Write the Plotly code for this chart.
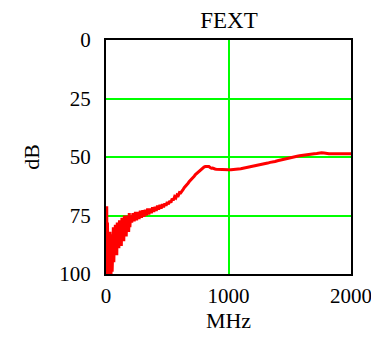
import plotly.graph_objects as go

# Frequency (MHz) and FEXT (dB)
freq_mhz = [
    2, 4, 6, 8, 10, 12, 15, 18, 20, 23, 26, 29, 32, 35, 38, 41, 44, 47, 50, 53, 56,
    60, 64, 68, 72, 76, 80, 84, 88, 92, 96, 100, 105, 110, 115, 120, 125, 130, 135,
    140, 145, 150, 155, 160, 165, 170, 175, 180, 185, 190, 195,
    200, 210, 220, 230, 240, 250, 260, 270, 280, 290, 300, 310, 320, 330, 340, 350,
    360, 370, 380, 390, 400, 410, 420, 430, 440, 450, 460, 470, 480, 490, 500, 510,
    520, 530, 540, 550, 560, 570, 580, 590, 600, 610, 620, 630, 640, 650, 660, 670,
    680, 690, 700, 710, 720, 730, 740, 750, 760, 770, 780, 790, 800, 810, 820, 830,
    840, 850, 860, 870, 880, 890, 900, 920, 940, 960, 980, 1000, 1020, 1040, 1060,
    1080, 1100, 1120, 1140, 1160, 1180, 1200, 1220, 1240, 1260, 1280, 1300, 1320,
    1340, 1360, 1380, 1400, 1420, 1440, 1460, 1480, 1500, 1520, 1540, 1560, 1580,
    1600, 1620, 1640, 1660, 1680, 1700, 1720, 1740, 1760, 1780, 1800, 1820, 1850,
    1900, 1950, 2000,
]
fext_db = [
    100, 85, 71, 95, 100, 78, 92, 100, 84, 97, 88, 100, 82, 96, 86, 100, 90, 83, 99, 85, 93,
    80, 95, 84, 90, 79, 88, 82, 92, 78, 86, 80, 89, 77, 86, 79, 88, 76, 84,
    78, 86, 75, 82, 77, 84, 75, 81, 76, 82, 74, 80,
    75, 78, 74, 77.5, 73.5, 77, 73.5, 76.5, 73, 76, 72.8, 75.5, 72.5, 75, 72, 74.5,
    72, 74, 71.5, 73.5, 71.3, 73, 70.8, 72.5, 70.5, 72, 70.2, 71.5, 69.8, 70.8, 69.2, 70.2,
    68.8, 69.5, 67.8, 68.5, 67, 67.5, 66.2, 66.5, 65.2, 65.3, 64.2, 63.8, 63, 62.5, 61.8, 61.2,
    60.5, 60, 59.3, 58.7, 58.2, 57.5, 57, 56.5, 56, 55.5, 55, 54.6, 54.3, 54.1, 54, 53.9,
    54.1, 54.5, 54.8, 54.7, 55, 55.1, 55.2, 55.3, 55.4, 55.5, 55.4, 55.5, 55.4, 55.4, 55.2,
    55.1, 55, 54.8, 54.6, 54.4, 54.3, 54.1, 53.8, 53.6, 53.3, 53.1, 52.8, 52.6,
    52.3, 52.2, 51.9, 51.6, 51.4, 51.2, 51, 50.7, 50.4, 50.2, 49.9, 49.7, 49.5,
    49.3, 49.1, 49, 48.9, 48.7, 48.6, 48.5, 48.3, 48.2, 48.3, 48.5, 48.6, 48.6,
    48.6, 48.6, 48.6,
]
x_ticks = [0, 1000, 2000]
y_ticks = [0, 25, 50, 75, 100]

FONT = "Liberation Serif, Times New Roman, serif"

# The page body adds an 8 px margin, so the figure is sized to fill the rest.
W, H = 371, 329

fig = go.Figure()
fig.add_trace(go.Scatter(
    x=freq_mhz, y=fext_db, mode="lines",
    line=dict(color="#ff0000", width=3),
    showlegend=False,
))

fig.update_layout(
    width=W, height=H,
    margin=dict(l=98, r=28, t=32, b=63, autoexpand=False),
    paper_bgcolor="white", plot_bgcolor="white",
    font=dict(family=FONT, size=21, color="black"),
    title=dict(text="FEXT", x=221 / W, xanchor="center",
               y=1 - 12 / H, yanchor="middle",
               font=dict(family=FONT, size=23, color="black")),
)
fig.update_xaxes(
    range=[0, 2000], tickvals=x_ticks, ticktext=[str(v) for v in x_ticks],
    showgrid=True, gridcolor="#00ff00", gridwidth=2,
    zeroline=False, showline=True, linecolor="black", linewidth=2, mirror=True,
    ticks="outside", ticklen=2, tickcolor="rgba(0,0,0,0)",
    tickfont=dict(size=21), automargin=False,
    title=dict(text="MHz", standoff=4, font=dict(size=22)),
)
fig.update_yaxes(
    range=[100, 0], tickvals=y_ticks, ticktext=[str(v) for v in y_ticks],
    showgrid=True, gridcolor="#00ff00", gridwidth=2,
    zeroline=False, showline=True, linecolor="black", linewidth=2, mirror=True,
    ticks="outside", ticklen=9, tickcolor="rgba(0,0,0,0)",
    tickfont=dict(size=21), automargin=False,
    title=dict(text="dB", standoff=14, font=dict(size=22)),
)

fig.write_html("out.html")
